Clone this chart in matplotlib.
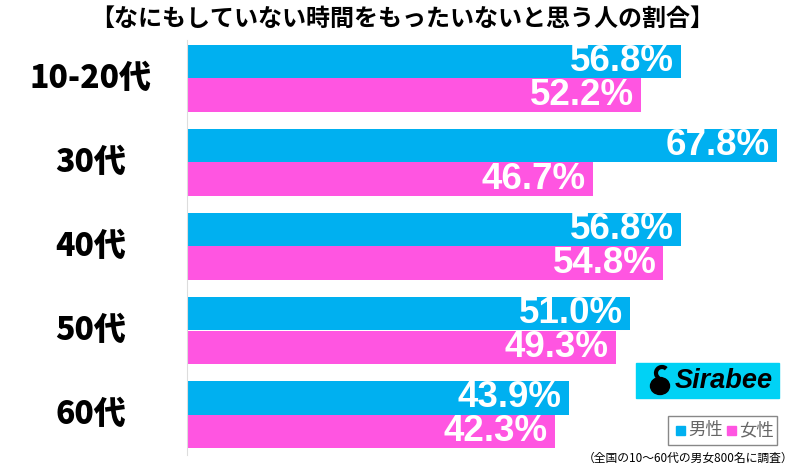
import matplotlib.pyplot as plt
from matplotlib.patches import Rectangle, Ellipse, Arc

plt.rcParams['font.family'] = ['Noto Sans CJK JP', 'DejaVu Sans']

# データ
ages = ['10-20代', '30代', '40代', '50代', '60代']
male = [56.8, 67.8, 56.8, 51.0, 43.9]
female = [52.2, 46.7, 54.8, 49.3, 42.3]

blue = '#00b0f0'
pink = '#ff55e1'

W, H = 800, 466
fig = plt.figure(figsize=(8, 4.66), dpi=100)

# 軸の位置 (ピクセル基準)
ax = fig.add_axes([187 / W, 1 - 455 / H, 1 - 187 / W, (455 - 40) / H])
ax.set_xlim(0, 70.5)
ax.set_ylim(4.482, -0.458)

h = 0.4
ypos = list(range(len(ages)))
ax.barh([y - h / 2 for y in ypos], male, height=h, color=blue)
ax.barh([y + h / 2 for y in ypos], female, height=h, color=pink)

for y, m, f in zip(ypos, male, female):
    ax.annotate(f'{m:.1f}%', (m, y - h / 2), xytext=(-5, 0), textcoords='offset points',
                ha='right', va='center', color='white', fontsize=26.5, fontweight='bold',
                family='Liberation Sans')
    ax.annotate(f'{f:.1f}%', (f, y + h / 2), xytext=(-5, 0), textcoords='offset points',
                ha='right', va='center', color='white', fontsize=26.5, fontweight='bold',
                family='Liberation Sans')

for s in ['top', 'right', 'bottom']:
    ax.spines[s].set_visible(False)
ax.spines['left'].set_color('#dddddd')
ax.set_xticks([])
ax.set_yticks([])

# 年代ラベル
for y, a in zip(ypos, ages):
    yy = 1 - (40 + (y + 0.458) * 84) / H
    fig.text(91 / W, yy, a, ha='center', va='center', fontsize=23, fontweight='heavy')

# タイトル
fig.text(402 / W, 1 - 19 / H, '【なにもしていない時間をもったいないと思う人の割合】',
         ha='center', va='center', fontsize=17.3, fontweight='bold')

# ロゴ
fig.patches.append(Rectangle((636 / W, 1 - 398 / H), 143 / W, 35 / H,
                             transform=fig.transFigure, color='#00d2f5', zorder=1))
fig.patches.append(Ellipse((660 / W, 1 - 386 / H), 19 / W, 17 / H,
                           transform=fig.transFigure, color='black', zorder=2))
fig.patches.append(Arc((662 / W, 1 - 373 / H), 12 / W, 12 / H, theta1=60, theta2=250,
                       transform=fig.transFigure, color='black', lw=3, zorder=2))
fig.text(675 / W, 1 - 381 / H, 'Sirabee', ha='left', va='center', fontsize=19.5,
         fontweight='bold', style='italic', family='Liberation Sans', color='black')

# 凡例
fig.patches.append(Rectangle((668 / W, 1 - 445 / H), 109 / W, 29 / H,
                             transform=fig.transFigure, fill=False, ec='#888888', lw=1))
fig.patches.append(Rectangle((676 / W, 1 - 435 / H), 9 / W, 9 / H,
                             transform=fig.transFigure, color=blue))
fig.text(688 / W, 1 - 430 / H, '男性', ha='left', va='center', fontsize=12.5, color='#666666')
fig.patches.append(Rectangle((727 / W, 1 - 435 / H), 9 / W, 9 / H,
                             transform=fig.transFigure, color=pink))
fig.text(739 / W, 1 - 430 / H, '女性', ha='left', va='center', fontsize=12.5, color='#666666')

# 注記
fig.text(793 / W, 1 - 458 / H, '（全国の10～60代の男女800名に調査）', ha='right', va='center',
         fontsize=8.5)

fig.savefig('out.png', dpi=100)
